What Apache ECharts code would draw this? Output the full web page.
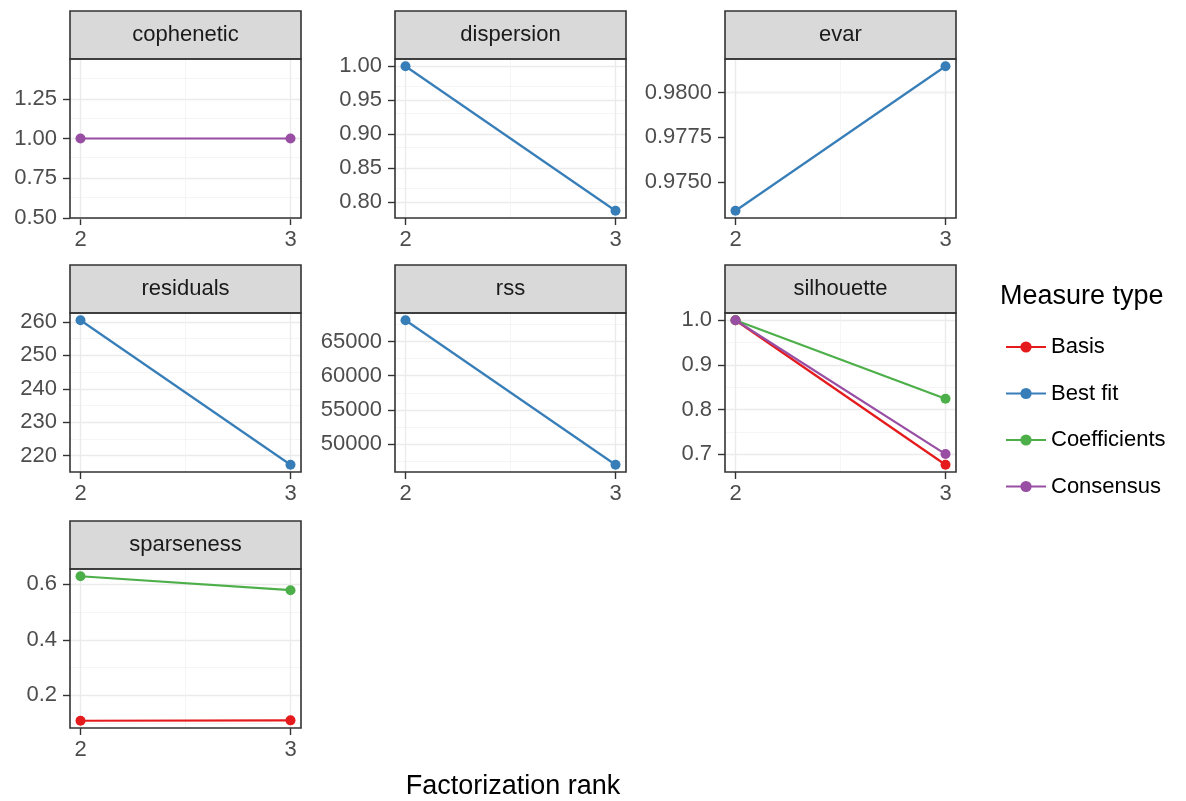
<!DOCTYPE html>
<html><head><meta charset="utf-8">
<script src="https://cdn.jsdelivr.net/npm/echarts@6/dist/echarts.min.js"></script>
<style>html,body{margin:0;padding:0;background:#fff}#c{width:1186px;height:801px}</style>
</head><body><div id="c"></div>
<script>
// ---------- data ----------
const ranks = [2, 3];
const rankLabels = ['2', '3'];
const measureTypes = ['Basis', 'Best fit', 'Coefficients', 'Consensus'];
const measureColors = ['#E41A1C', '#377EB8', '#4DAF4A', '#984EA3'];
const panelNames = ['cophenetic', 'dispersion', 'evar', 'residuals', 'rss', 'silhouette', 'sparseness'];

const copheneticConsensus = [1.0, 1.0];
const dispersionBestFit = [1.0, 0.787];
const evarBestFit = [0.97339, 0.98148];
const residualsBestFit = [260.5, 217.3];
const rssBestFit = [68100, 46980];
const silhouetteBasis = [1.0, 0.676];
const silhouetteCoefficients = [1.0, 0.824];
const silhouetteConsensus = [1.0, 0.700];
const sparsenessBasis = [0.108, 0.1095];
const sparsenessCoefficients = [0.629, 0.5786];

const copheneticTicks = ['0.50', '0.75', '1.00', '1.25'];
const dispersionTicks = ['0.80', '0.85', '0.90', '0.95', '1.00'];
const evarTicks = ['0.9750', '0.9775', '0.9800'];
const residualsTicks = ['220', '230', '240', '250', '260'];
const rssTicks = ['50000', '55000', '60000', '65000'];
const silhouetteTicks = ['0.7', '0.8', '0.9', '1.0'];
const sparsenessTicks = ['0.2', '0.4', '0.6'];

// ---------- panel assembly ----------
const panels = [
  { name: panelNames[0], ticks: copheneticTicks, series: [['Consensus', copheneticConsensus]] },
  { name: panelNames[1], ticks: dispersionTicks, series: [['Best fit', dispersionBestFit]] },
  { name: panelNames[2], ticks: evarTicks, series: [['Best fit', evarBestFit]] },
  { name: panelNames[3], ticks: residualsTicks, series: [['Best fit', residualsBestFit]] },
  { name: panelNames[4], ticks: rssTicks, series: [['Best fit', rssBestFit]] },
  { name: panelNames[5], ticks: silhouetteTicks, series: [['Basis', silhouetteBasis], ['Coefficients', silhouetteCoefficients], ['Consensus', silhouetteConsensus]] },
  { name: panelNames[6], ticks: sparsenessTicks, series: [['Basis', sparsenessBasis], ['Coefficients', sparsenessCoefficients]] }
];

// ---------- layout ----------
const FONT = 'Liberation Sans, Arial, sans-serif';
const colLeft = [70, 395, 725];
const rowTop = [11, 265, 521];
const plotW = 231, stripH = 48, plotH = 159;
const tickFont = 22, titleFont = 27;

function expandRange(lo, hi) {
  if (hi - lo < 1e-12) return [lo - 0.5, hi + 0.5];
  const d = (hi - lo) * 0.05;
  return [lo - d, hi + d];
}
const xRange = expandRange(ranks[0], ranks[ranks.length - 1]);

const grids = [], xAxes = [], yAxes = [], series = [], graphics = [];

panels.forEach((p, i) => {
  const c = i % 3, r = Math.floor(i / 3);
  const left = colLeft[c], top = rowTop[r] + stripH;
  grids.push({ left: left, top: top, width: plotW, height: plotH, containLabel: false });

  const all = [];
  p.series.forEach(s => s[1].forEach(v => all.push(v)));
  const yr = expandRange(Math.min(...all), Math.max(...all));
  const tickVals = p.ticks.map(Number);

  xAxes.push({
    type: 'value', gridIndex: i, min: xRange[0], max: xRange[1],
    axisLine: { show: false }, splitLine: { show: false },
    axisTick: { show: true, length: 7, customValues: ranks, lineStyle: { color: '#333', width: 1.4 } },
    axisLabel: { customValues: ranks, margin: 11, color: '#4d4d4d', fontSize: tickFont, fontFamily: FONT,
      formatter: v => { const k = ranks.findIndex(t => Math.abs(t - v) < 1e-9); return k >= 0 ? rankLabels[k] : ''; } }
  });
  yAxes.push({
    type: 'value', gridIndex: i, min: yr[0], max: yr[1], scale: true,
    axisLine: { show: false }, splitLine: { show: false },
    axisTick: { show: true, length: 7, customValues: tickVals, lineStyle: { color: '#333', width: 1.4 } },
    axisLabel: { customValues: tickVals, margin: 13, color: '#4d4d4d', fontSize: tickFont, fontFamily: FONT,
      formatter: v => { const k = tickVals.findIndex(t => Math.abs(t - v) < 1e-9 * Math.max(1, Math.abs(t))); return k >= 0 ? p.ticks[k] : ''; } }
  });

  // grid lines (major + minor), ggplot style
  const step = tickVals[1] - tickVals[0];
  const ext = [tickVals[0] - step].concat(tickVals, [tickVals[tickVals.length - 1] + step]);
  const gl = [];
  tickVals.forEach(v => gl.push({ yAxis: v, lineStyle: { color: '#ebebeb', width: 1.4, type: 'solid' } }));
  for (let k = 0; k < ext.length - 1; k++) {
    const m = (ext[k] + ext[k + 1]) / 2;
    if (m > yr[0] && m < yr[1]) gl.push({ yAxis: m, lineStyle: { color: '#f2f2f2', width: 0.8, type: 'solid' } });
  }
  ranks.forEach(v => gl.push({ xAxis: v, lineStyle: { color: '#ebebeb', width: 1.4, type: 'solid' } }));
  for (let k = 0; k < ranks.length - 1; k++) gl.push({ xAxis: (ranks[k] + ranks[k + 1]) / 2, lineStyle: { color: '#f2f2f2', width: 0.8, type: 'solid' } });
  series.push({
    type: 'line', xAxisIndex: i, yAxisIndex: i, data: [], z: 1, silent: true,
    markLine: { z: 1, silent: true, symbol: ['none', 'none'], label: { show: false }, animation: false, data: gl }
  });

  // data series in legend order
  const ordered = p.series.slice().sort((a, b) => measureTypes.indexOf(a[0]) - measureTypes.indexOf(b[0]));
  ordered.forEach(s => {
    const col = measureColors[measureTypes.indexOf(s[0])];
    series.push({
      type: 'line', name: s[0], xAxisIndex: i, yAxisIndex: i, z: 10,
      data: ranks.map((rk, j) => [rk, s[1][j]]),
      symbol: 'circle', symbolSize: 10, showSymbol: true, clip: false,
      lineStyle: { color: col, width: 2.2 }, itemStyle: { color: col },
      emphasis: { disabled: true }, animation: false
    });
  });

  // strip
  graphics.push({ type: 'rect', z: 5,
    shape: { x: left, y: rowTop[r], width: plotW, height: stripH }, style: { fill: '#d9d9d9', stroke: '#333', lineWidth: 1.6 } });
  graphics.push({ type: 'text', z: 6, x: left + plotW / 2, y: rowTop[r] + stripH / 2,
    style: { text: p.name, fill: '#1a1a1a', font: tickFont + 'px ' + FONT, textAlign: 'center', textVerticalAlign: 'middle' } });
  // panel border
  graphics.push({ type: 'rect', z: 50, silent: true,
    shape: { x: left, y: top, width: plotW, height: plotH }, style: { fill: 'none', stroke: '#333', lineWidth: 1.6 } });
});

graphics.push({ type: 'text', z: 6, x: 513, y: 787,
  style: { text: 'Factorization rank', fill: '#000', font: titleFont + 'px ' + FONT, textAlign: 'center', textVerticalAlign: 'middle' } });
graphics.push({ type: 'text', z: 6, x: 1000, y: 297,
  style: { text: 'Measure type', fill: '#000', font: titleFont + 'px ' + FONT, textAlign: 'left', textVerticalAlign: 'middle' } });

const chart = echarts.init(document.getElementById('c'), null, { renderer: 'canvas' });
chart.setOption({
  animation: false,
  backgroundColor: '#fff',
  grid: grids, xAxis: xAxes, yAxis: yAxes, series: series,
  legend: {
    data: measureTypes, orient: 'vertical', left: 1000, top: 331,
    itemWidth: 40, itemHeight: 14, itemGap: 24.5, selectedMode: false,
    textStyle: { color: '#000', fontSize: tickFont, fontFamily: FONT, lineHeight: 22 }
  },
  graphic: graphics
});
</script></body></html>
